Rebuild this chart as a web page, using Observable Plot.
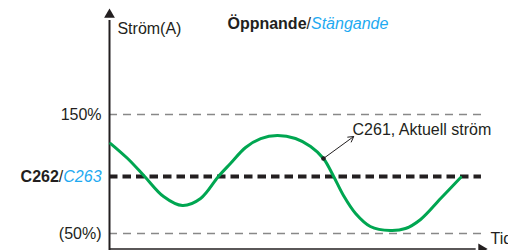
<!DOCTYPE html>
<html>
<head>
<meta charset="utf-8">
<script src="https://cdn.jsdelivr.net/npm/d3@7"></script>
<script src="https://cdn.jsdelivr.net/npm/@observablehq/plot@0.6"></script>
<style>
  html, body { margin: 0; padding: 0; background: #fff; }
  svg { display: block; }
</style>
</head>
<body>
<div id="chart"></div>
<script>
// ---- data ----
const curveT = [0.3, 4.8, 9.3, 14.3, 19.3, 24.1, 28.8, 32.0, 36.0, 40.0, 44.4, 49.2, 53.2, 56.6, 59.3, 61.9, 65.1, 69.0, 74.3, 78.3, 82.3, 87.6, 92.9];
const curveV = [125.6, 113.0, 97.9, 81.1, 73.5, 79.4, 97.9, 108.8, 122.3, 129.8, 132.4, 129.8, 123.1, 113.0, 97.9, 81.9, 66.8, 55.9, 52.5, 54.2, 61.8, 79.4, 97.1];
const levelValues = [150, 98, 50];
const levelLabels = ["150%", "C262/C263", "(50%)"];
const titleParts = ["Öppnande", "/", "Stängande"];
const levelParts = ["C262", "/", "C263"];
const yAxisLabel = "Ström(A)";
const xAxisLabel = "Tid";
const markerT = [56.6];
const markerV = [113.0];
const noteText = ["C261, Aktuell ström"];

const BLACK = "#231f20", BLUE = "#1eaaf1", GREEN = "#00a651", GRAY = "#888888";
const FONT = "'Liberation Sans', Arial, Helvetica, sans-serif";
const FS = 16;

const curve = curveT.map((t, i) => ({t, v: curveV[i]}));
const levels = levelValues.map((v, i) => ({v, label: levelLabels[i]}));

const plot = Plot.plot({
  width: 508,
  height: 250,
  marginTop: 0, marginBottom: 0, marginLeft: 0, marginRight: 0,
  x: {domain: [0, 100], range: [109, 487], axis: null},
  y: {domain: [50, 150], range: [233, 114], axis: null},
  style: {fontFamily: FONT, fontSize: FS + "px", background: "#fff", color: BLACK, overflow: "hidden"},
  marks: [
    // reference levels
    Plot.ruleY([levelValues[0]], {x1: 0, x2: 100, stroke: GRAY, strokeWidth: 1.3, strokeDasharray: "8,6"}),
    Plot.ruleY([levelValues[2]], {x1: 0, x2: 100, stroke: GRAY, strokeWidth: 1.3, strokeDasharray: "8,6"}),
    Plot.ruleY([levelValues[1]], {x1: 0, x2: 98.4, stroke: BLACK, strokeWidth: 4, strokeDasharray: "8.5,5"}),
    // axes
    Plot.ruleX([0], {y1: 30, y2: 229, stroke: BLACK, strokeWidth: 2}),
    Plot.ruleY([37], {x1: 0, x2: 97, stroke: BLACK, strokeWidth: 1.5}),
    Plot.dot([{t: 0, v: 233.9}], {x: "t", y: "v", symbol: "triangle", r: 4, fill: BLACK, stroke: null}),
    Plot.dot([{t: 98.4, v: 37}], {x: "t", y: "v", symbol: "triangle", r: 4, rotate: 90, fill: BLACK, stroke: null}),
    // current curve
    Plot.line(curve, {x: "t", y: "v", stroke: GREEN, strokeWidth: 3, curve: "catmull-rom"}),
    // annotation
    Plot.arrow([{x1: markerT[0], y1: markerV[0], x2: 64.6, y2: 131.5}], {x1: "x1", y1: "y1", x2: "x2", y2: "y2", stroke: BLACK, strokeWidth: 1, headLength: 9}),
    Plot.dot(markerT.map((t, i) => ({t, v: markerV[i]})), {x: "t", y: "v", r: 2.3, fill: BLACK, stroke: null}),
    Plot.text(noteText, {x: 64.3, y: 137.2, text: d => d, textAnchor: "start", lineAnchor: "middle", fill: BLACK, fontSize: FS}),
    // labels
    Plot.text(levels, {x: -2.1, y: "v", text: "label", textAnchor: "end", lineAnchor: "middle", fill: BLACK, fontSize: FS}),
    Plot.text([yAxisLabel], {x: 2.1, y: 222.1, text: d => d, textAnchor: "start", lineAnchor: "middle", fill: BLACK, fontSize: FS}),
    Plot.text([titleParts.join("")], {x: 31.2, y: 225.9, text: d => d, textAnchor: "start", lineAnchor: "middle", fill: BLACK, fontSize: FS}),
    Plot.text([xAxisLabel], {x: 100.8, y: 45.6, text: d => d, textAnchor: "start", lineAnchor: "middle", fill: BLACK, fontSize: FS})
  ]
});

// mixed styling for composite labels
const NS = "http://www.w3.org/2000/svg";
function restyle(full, parts, styles) {
  plot.querySelectorAll("text").forEach(el => {
    if (el.textContent === full) {
      el.textContent = "";
      parts.forEach((p, i) => {
        const ts = document.createElementNS(NS, "tspan");
        ts.textContent = p;
        const s = styles[i];
        if (s.weight) ts.setAttribute("font-weight", s.weight);
        if (s.style) ts.setAttribute("font-style", s.style);
        if (s.fill) ts.setAttribute("fill", s.fill);
        el.appendChild(ts);
      });
    }
  });
}
const mixed = [{weight: "bold"}, {fill: BLACK}, {style: "italic", fill: BLUE}];
restyle(titleParts.join(""), titleParts, mixed);
restyle(levelParts.join(""), levelParts, mixed);

document.getElementById("chart").appendChild(plot);
</script>
</body>
</html>
